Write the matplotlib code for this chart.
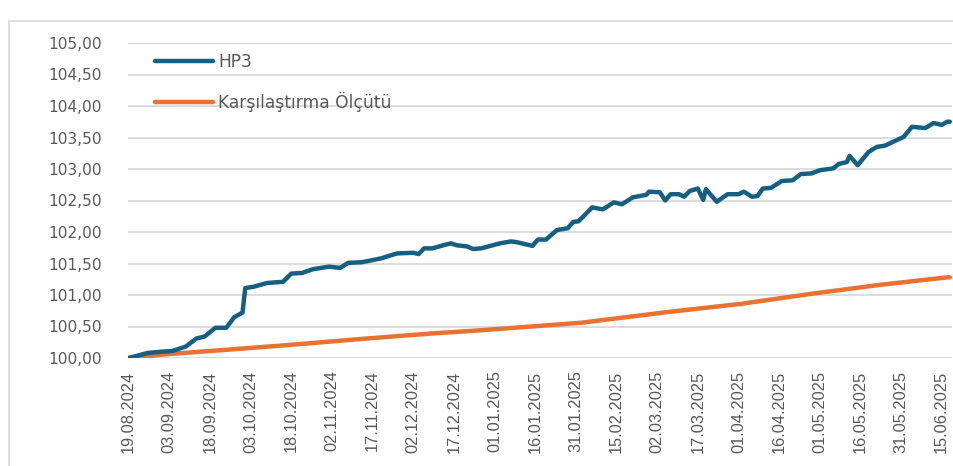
import matplotlib
matplotlib.use("Agg")
import matplotlib.pyplot as plt
import matplotlib.dates as mdates
from matplotlib.patches import Rectangle
from matplotlib.ticker import FuncFormatter, MultipleLocator
import pandas as pd

# HP3 fund price index
hp3_dates = [
    "2024-08-19", "2024-08-26", "2024-08-31", "2024-09-04", "2024-09-09", "2024-09-13",
    "2024-09-16", "2024-09-20", "2024-09-24", "2024-09-27", "2024-09-30", "2024-10-01",
    "2024-10-04", "2024-10-09", "2024-10-15", "2024-10-18", "2024-10-22", "2024-10-26",
    "2024-11-01", "2024-11-05", "2024-11-08", "2024-11-13", "2024-11-20", "2024-11-26",
    "2024-12-02", "2024-12-04", "2024-12-06", "2024-12-09", "2024-12-14", "2024-12-16",
    "2024-12-18", "2024-12-22", "2024-12-24", "2024-12-27", "2025-01-03", "2025-01-07",
    "2025-01-09", "2025-01-15", "2025-01-17", "2025-01-20", "2025-01-24", "2025-01-28",
    "2025-01-30", "2025-02-01", "2025-02-06", "2025-02-10", "2025-02-14", "2025-02-17",
    "2025-02-21", "2025-02-26", "2025-02-27", "2025-03-03", "2025-03-05", "2025-03-07",
    "2025-03-10", "2025-03-12", "2025-03-14", "2025-03-17", "2025-03-19", "2025-03-20",
    "2025-03-24", "2025-03-28", "2025-04-01", "2025-04-03", "2025-04-06", "2025-04-08",
    "2025-04-10", "2025-04-13", "2025-04-17", "2025-04-21", "2025-04-24", "2025-04-28",
    "2025-05-01", "2025-05-06", "2025-05-08", "2025-05-11", "2025-05-12", "2025-05-15",
    "2025-05-19", "2025-05-22", "2025-05-25", "2025-05-28", "2025-06-01", "2025-06-04",
    "2025-06-09", "2025-06-12", "2025-06-15", "2025-06-17", "2025-06-18",
]
hp3_values = [
    100.00, 100.08, 100.10, 100.11, 100.18, 100.31,
    100.34, 100.48, 100.48, 100.65, 100.72, 101.11,
    101.13, 101.19, 101.21, 101.34, 101.35, 101.41,
    101.45, 101.43, 101.51, 101.52, 101.58, 101.66,
    101.67, 101.65, 101.74, 101.74, 101.80, 101.82,
    101.79, 101.77, 101.73, 101.74, 101.82, 101.85,
    101.84, 101.78, 101.88, 101.88, 102.03, 102.06,
    102.16, 102.17, 102.39, 102.36, 102.47, 102.44,
    102.55, 102.59, 102.64, 102.63, 102.50, 102.60,
    102.60, 102.56, 102.65, 102.69, 102.51, 102.68,
    102.48, 102.60, 102.60, 102.64, 102.56, 102.57,
    102.69, 102.70, 102.81, 102.82, 102.92, 102.93,
    102.98, 103.01, 103.08, 103.11, 103.21, 103.06,
    103.27, 103.35, 103.37, 103.43, 103.51, 103.67,
    103.65, 103.73, 103.70, 103.75, 103.75,
]

# Benchmark index
bench_dates = [
    "2024-08-19", "2024-09-02", "2024-09-27", "2024-10-21", "2024-11-15", "2024-12-09",
    "2024-12-27", "2025-02-02", "2025-03-06", "2025-04-02", "2025-04-28", "2025-05-23",
    "2025-06-17", "2025-06-18",
]
bench_values = [
    100.00, 100.06, 100.14, 100.22, 100.31, 100.39,
    100.44, 100.56, 100.73, 100.86, 101.02, 101.16,
    101.28, 101.28,
]

series_names = ["HP3", "Karşılaştırma Ölçütü"]
tick_start = "2024-08-19"
tick_step_days = 15

hp3_x = pd.to_datetime(hp3_dates)
bench_x = pd.to_datetime(bench_dates)

W, H = 954, 466
fig = plt.figure(figsize=(W / 100, H / 100), dpi=100)

# chart-area frame
fig.add_artist(Rectangle((9.5 / W, -0.05), 1.2, (H - 20.5) / H + 0.05,
                         transform=fig.transFigure, fill=False,
                         edgecolor="#d9d9d9", linewidth=1.2, clip_on=False))

ax_left, ax_right = 128 / W, 952 / W
ax_bottom, ax_top = (H - 358) / H, (H - 43) / H
ax = fig.add_axes([ax_left, ax_bottom, ax_right - ax_left, ax_top - ax_bottom])

blue = "#156082"
orange = "#E97132"
grey_text = "#595959"

ax.plot(bench_x, bench_values, color=orange, lw=3.2, solid_capstyle="round",
        solid_joinstyle="round", label=series_names[1], zorder=3)
ax.plot(hp3_x, hp3_values, color=blue, lw=3.2, solid_capstyle="round",
        solid_joinstyle="round", label=series_names[0], zorder=4)

start = pd.Timestamp(tick_start)
ax.set_xlim(start - pd.Timedelta(hours=6), start + pd.Timedelta(days=303.8))
ax.set_ylim(100, 105)

ticks = pd.date_range(start, periods=21, freq=f"{tick_step_days}D")
ax.set_xticks(ticks)
ax.xaxis.set_major_formatter(mdates.DateFormatter("%d.%m.%Y"))
ax.yaxis.set_major_locator(MultipleLocator(0.5))
ax.yaxis.set_major_formatter(FuncFormatter(lambda v, p: f"{v:.2f}".replace(".", ",")))

ax.grid(axis="y", color="#d9d9d9", linewidth=1.3)
ax.set_axisbelow(True)
for s in ax.spines.values():
    s.set_visible(False)
ax.tick_params(axis="both", length=0)
ax.tick_params(axis="y", pad=19, labelsize=11.1, labelcolor=grey_text)
ax.tick_params(axis="x", pad=9, labelcolor=grey_text)
for lab in ax.get_yticklabels():
    lab.set_fontfamily(["DejaVu Sans"])
for lab in ax.get_xticklabels():
    lab.set_rotation(90)
    lab.set_fontfamily(["Liberation Sans", "DejaVu Sans"])
    lab.set_fontsize(11.8)

handles, labels = ax.get_legend_handles_labels()
leg = ax.legend(handles[::-1], labels[::-1], loc="upper left",
                bbox_to_anchor=(0.033, 0.968), frameon=False,
                borderaxespad=0, borderpad=0, handlelength=3.4,
                handletextpad=0.3, labelspacing=1.2,
                prop={"family": "DejaVu Sans", "size": 12.3})
for t in leg.get_texts():
    t.set_color(grey_text)

fig.savefig("out.png", dpi=100)
